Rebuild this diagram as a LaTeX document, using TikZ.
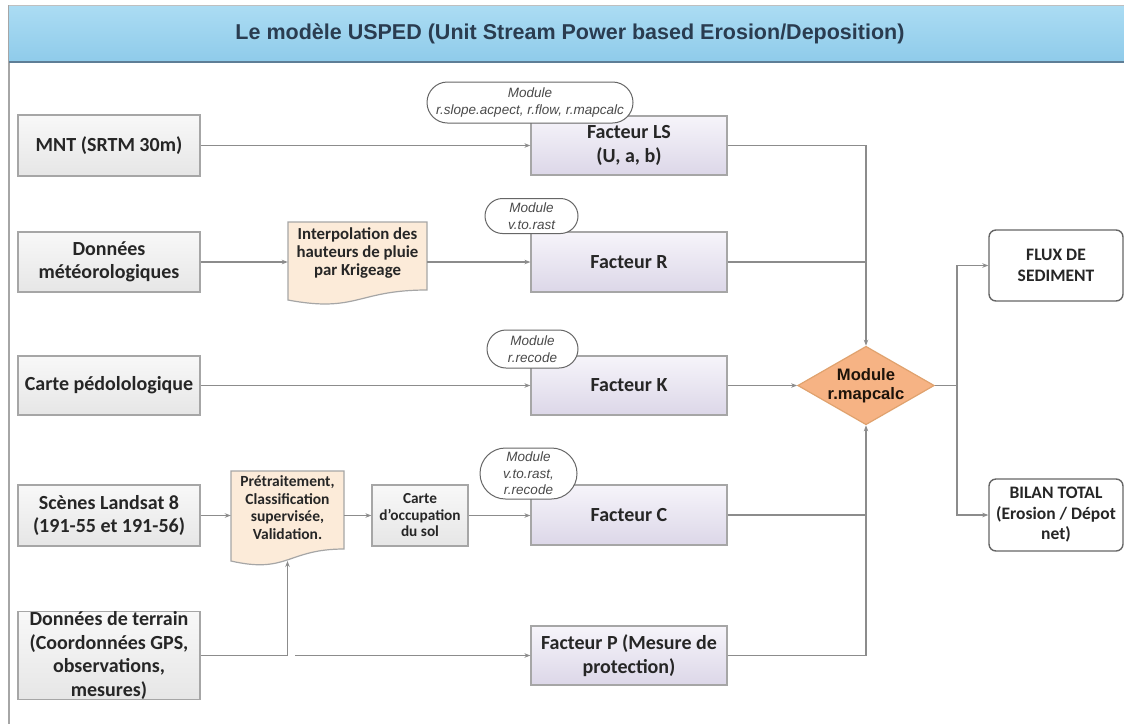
\documentclass[tikz,border=0pt]{standalone}
\usepackage{fontspec}
\setmainfont{Carlito}
\newfontfamily\arialf{Liberation Sans}
\usetikzlibrary{shapes.geometric,shapes.misc,arrows.meta}
\definecolor{hdrA}{HTML}{ABDCF3}
\definecolor{hdrB}{HTML}{8FCBEA}
\definecolor{hdrline}{HTML}{5E7E96}
\definecolor{titlecol}{HTML}{2A3C50}
\definecolor{boxline}{HTML}{A6A6A6}
\definecolor{boxA}{HTML}{F8F8F8}
\definecolor{boxB}{HTML}{E6E6E6}
\definecolor{facA}{HTML}{F6F4FA}
\definecolor{facB}{HTML}{DCD7E8}
\definecolor{docfill}{HTML}{FCEBD9}
\definecolor{diafill}{HTML}{F6B384}
\definecolor{dialine}{HTML}{E0A26E}
\definecolor{conn}{HTML}{8C8C8C}
\definecolor{txt}{HTML}{262626}
\definecolor{pilltxt}{HTML}{4A4A4A}
\definecolor{outline}{HTML}{666666}
\tikzset{
  lbox/.style={draw=boxline, line width=1.2pt, top color=boxA, bottom color=boxB,
    font=\fontsize{20}{23.5}\selectfont\bfseries, text=txt, align=center,
    minimum width=182pt, inner sep=0pt},
  facbox/.style={draw=boxline, line width=1.2pt, top color=facA, bottom color=facB,
    font=\fontsize{20}{23.5}\selectfont\bfseries, text=txt, align=center,
    minimum width=196pt, inner sep=0pt},
  pill/.style={rounded rectangle, draw=outline, line width=1pt, fill=white,
    font=\arialf\itshape\fontsize{13.5}{16.5}\selectfont, text=pilltxt, align=center, inner sep=0pt},
  docnode/.style={draw=none, font=\fontsize{16.8}{18}\selectfont\bfseries, text=txt,
    align=center, inner sep=0pt},
  docshape/.style={draw=boxline, line width=1.2pt, fill=docfill},
  outbox/.style={draw=outline, line width=1.4pt, rounded corners=7pt, fill=white,
    font=\fontsize{17.5}{20.5}\selectfont\bfseries, text=txt, align=center,
    minimum width=134pt, inner sep=0pt},
  dia/.style={diamond, draw=dialine, line width=1.2pt, fill=diafill, aspect=1.74,
    minimum width=134pt, minimum height=77pt, inner sep=0pt,
    font=\arialf\bfseries\fontsize{16.6}{19}\selectfont, text=black!85!brown, align=center},
  conn/.style={draw=conn, line width=1.1pt},
  arr/.style={-{Stealth[length=6pt,width=4.5pt]}},
}
\begin{document}
\begin{tikzpicture}[x=1pt,y=-1pt]
\useasboundingbox (0,0) rectangle (1124,724);
\fill[white] (0,0) rectangle (1124,724);
% frame and header
\draw[boxline, line width=1.2pt] (9,5) -- (9,724);
\shade[top color=hdrA, bottom color=hdrB] (9,5) rectangle (1124,62);
\draw[black!25, line width=1pt] (9,5) -- (1124,5);
\draw[hdrline, line width=2pt] (9,62) -- (1124,62);
\node[font=\arialf\bfseries\fontsize{21.5}{24}\selectfont, text=titlecol] (title) at (570,34)
  {Le modèle USPED (Unit Stream Power based Erosion/Deposition)};

% left column
\node[lbox, minimum height=61pt] (mnt) at (109,145.5) {MNT (SRTM 30m)};
\node[lbox, minimum height=60pt] (meteo) at (109,262) {Données\\météorologiques};
\node[lbox, minimum height=59pt] (pedo) at (109,385.5) {Carte pédolologique};
\node[lbox, minimum height=61pt] (land) at (109,515.5) {Scènes Landsat 8\\(191-55 et 191-56)};
\node[lbox, minimum height=87pt] (terr) at (109,655.5)
  {Données de terrain\\(Coordonnées GPS,\\observations,\\mesures)};

% documents
\draw[docshape] (288,222) -- (427,222) -- (427,290)
  .. controls (357,290) and (357,313) .. (288,300) -- cycle;
\node[docnode, minimum width=139pt, minimum height=70pt] (interp) at (357.5,257) {};
\node[docnode] (interptxt) at (357.5,253) {Interpolation des\\hauteurs de pluie\\par Krigeage};

\draw[docshape] (231,471) -- (344,471) -- (344,549)
  .. controls (287.5,549) and (287.5,574) .. (231,561) -- cycle;
\node[docnode, minimum width=113pt, minimum height=78pt] (pre) at (287.5,510) {};
\node[docnode, font=\fontsize{15.5}{17.6}\selectfont\bfseries] (pretxt) at (287.5,507.5)
  {Prétraitement,\\Classification\\supervisée,\\Validation.};
\coordinate (prebot) at (287.5,561);

\node[lbox, minimum width=96pt, minimum height=61pt, font=\fontsize{15.3}{16.5}\selectfont\bfseries] (occ) at (420,515.5)
  {Carte\\d'occupation\\du sol};

% factor boxes
\node[facbox, minimum height=59pt] (ls) at (629,145.5) {Facteur LS\\(U, a, b)};
\node[facbox, minimum height=60pt] (rr) at (629,262) {Facteur R};
\node[facbox, minimum height=59pt] (kk) at (629,385.5) {Facteur K};
\node[facbox, minimum height=60pt] (cc) at (629,515) {Facteur C};
\node[facbox, minimum height=59pt] (pp) at (629,655.5) {Facteur P (Mesure de\\protection)};

% module pills
\node[pill, minimum width=206pt, minimum height=41pt] (mls) at (530,102.5) {Module\\r.slope.acpect, r.flow, r.mapcalc};
\node[pill, minimum width=93pt, minimum height=35pt] (mr) at (531.5,216) {Module\\v.to.rast};
\node[pill, minimum width=91pt, minimum height=38pt] (mk) at (532.5,349) {Module\\r.recode};
\node[pill, minimum width=97pt, minimum height=51pt] (mc) at (528.5,473.5) {Module\\v.to.rast,\\r.recode};

% diamond and outputs
\node[dia] (dia) at (866,385.5) {Module\\r.mapcalc};
\node[outbox, minimum height=71pt] (flux) at (1056,265.5) {FLUX DE\\SEDIMENT};
\node[outbox, minimum height=72pt] (bilan) at (1056,515) {BILAN TOTAL\\(Erosion / Dépot\\net)};

% connectors
\draw[conn,arr] (mnt.east) -- (ls.west);
\draw[conn,arr] (meteo.east) -- (meteo.east -| interp.west);
\draw[conn,arr] (interp.east |- rr.west) -- (rr.west);
\draw[conn,arr] (pedo.east) -- (kk.west);
\draw[conn,arr] (land.east) -- (land.east -| pre.west);
\draw[conn,arr] (pre.east |- occ.west) -- (occ.west);
\draw[conn,arr] (occ.east) -- (occ.east -| cc.west);
\draw[conn,arr] (terr.east) -| (prebot);
\coordinate (gapend) at (295,655.5);
\draw[conn,arr] (gapend) -- (pp.west);

\draw[conn,arr] (ls.east) -| (dia.north);
\draw[conn] (rr.east) -- (rr.east -| dia.north);
\draw[conn,arr] (kk.east) -- (dia.west);
\draw[conn] (cc.east) -- (cc.east -| dia.south);
\draw[conn,arr] (pp.east) -| (dia.south);

\coordinate (split) at (957,385.5);
\draw[conn] (dia.east) -- (split);
\draw[conn,arr] (split) |- (flux.west);
\draw[conn,arr] (split) |- (bilan.west);
\end{tikzpicture}
\end{document}
